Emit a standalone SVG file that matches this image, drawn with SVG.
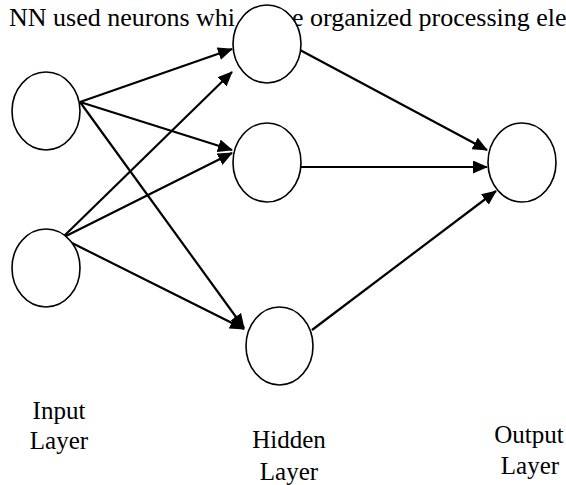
<svg xmlns="http://www.w3.org/2000/svg" width="566" height="485" viewBox="0 0 566 485">
<style>
text{font-family:"Liberation Serif","Times New Roman",serif;font-size:25px;fill:#000}
.ttl{font-size:26px}
.lbl{text-anchor:middle}
.node{fill:#fff;stroke:#000;stroke-width:1.6}
.edge{stroke:#000;stroke-width:2.2;fill:none;marker-end:url(#ah)}
</style>
<defs>
<marker id="ah" markerUnits="userSpaceOnUse" markerWidth="15" markerHeight="13" refX="14" refY="6.5" orient="auto">
<path d="M0,0 L15,6.5 L0,13 z" fill="#000"/>
</marker>
</defs>
<rect width="566" height="485" fill="#fff"/>
<g id="title">
<text class="ttl" x="9" y="26">NN used neurons whi</text>
<text class="ttl" x="292" y="26">e organized processing ele</text>
</g>
<g id="connectors">
<line class="edge" x1="80" y1="102" x2="232" y2="49"/>
<line class="edge" x1="80" y1="102" x2="232" y2="150"/>
<line class="edge" x1="80" y1="102" x2="244" y2="328"/>
<line class="edge" x1="62" y1="238" x2="232" y2="72"/>
<line class="edge" x1="62" y1="238" x2="232" y2="153"/>
<line class="edge" x1="62" y1="238" x2="244" y2="329"/>
<line class="edge" x1="300" y1="50" x2="487" y2="150"/>
<line class="edge" x1="301" y1="167" x2="487" y2="167"/>
<line class="edge" x1="312" y1="330" x2="496" y2="191"/>
</g>
<g id="input1"><ellipse class="node" cx="46" cy="111" rx="34" ry="39"/></g>
<g id="input2"><ellipse class="node" cx="46" cy="268" rx="34" ry="39"/></g>
<g id="hidden1"><ellipse class="node" cx="267" cy="44" rx="34" ry="39"/></g>
<g id="hidden2"><ellipse class="node" cx="267" cy="162.5" rx="34" ry="39.5"/></g>
<g id="hidden3"><ellipse class="node" cx="279.5" cy="346" rx="33.5" ry="39"/></g>
<g id="output1"><ellipse class="node" cx="522" cy="162.5" rx="34" ry="39.5"/></g>
<g id="label-input">
<text class="lbl" x="59" y="419">Input</text>
<text class="lbl" x="59" y="449">Layer</text>
</g>
<g id="label-hidden">
<text class="lbl" x="289" y="448">Hidden</text>
<text class="lbl" x="289" y="480">Layer</text>
</g>
<g id="label-output">
<text class="lbl" x="529" y="443">Output</text>
<text class="lbl" x="530" y="474">Layer</text>
</g>
</svg>
